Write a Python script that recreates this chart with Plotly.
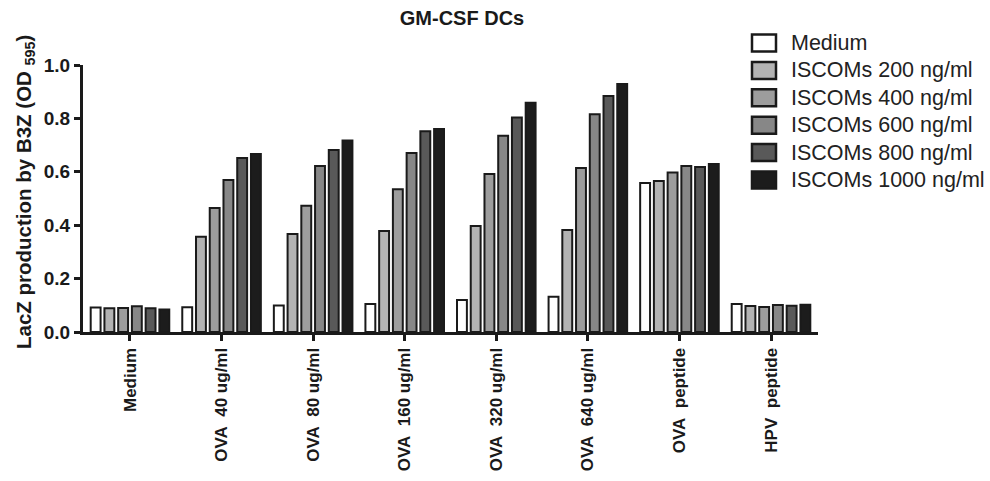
import plotly.graph_objects as go

categories = ["Medium", "OVA\u00a0 40 ug/ml", "OVA\u00a0 80 ug/ml", "OVA\u00a0 160 ug/ml",
              "OVA\u00a0 320 ug/ml", "OVA\u00a0 640 ug/ml", "OVA\u00a0 peptide", "HPV\u00a0 peptide"]

series_names = ["Medium", "ISCOMs 200 ng/ml", "ISCOMs 400 ng/ml",
                "ISCOMs 600 ng/ml", "ISCOMs 800 ng/ml", "ISCOMs 1000 ng/ml"]

medium_vals = [0.092, 0.093, 0.099, 0.105, 0.120, 0.132, 0.558, 0.105]
iscoms200 = [0.089, 0.357, 0.367, 0.378, 0.397, 0.382, 0.566, 0.097]
iscoms400 = [0.090, 0.464, 0.473, 0.535, 0.592, 0.614, 0.597, 0.094]
iscoms600 = [0.096, 0.569, 0.622, 0.670, 0.735, 0.816, 0.622, 0.101]
iscoms800 = [0.089, 0.652, 0.682, 0.752, 0.803, 0.884, 0.618, 0.098]
iscoms1000 = [0.084, 0.667, 0.717, 0.760, 0.859, 0.929, 0.629, 0.102]

series_values = [medium_vals, iscoms200, iscoms400, iscoms600, iscoms800, iscoms1000]
fill_colors = ["#ffffff", "#b3b3b3", "#9d9d9d", "#878787", "#595959", "#1c1c1c"]
edge = "#1a1a1a"

y_ticks = [0.0, 0.2, 0.4, 0.6, 0.8, 1.0]

W, H = 990, 481
L, R, T, B = 83, 172, 65, 149
pw, ph = W - L - R, H - T - B

def px2x(px):
    return (px - L) / pw

def py2y(py):
    return (H - B - py) / ph

fig = go.Figure()
xs = list(range(len(categories)))
for name, vals, col in zip(series_names, series_values, fill_colors):
    fig.add_trace(go.Bar(
        x=xs, y=vals, name=name,
        marker=dict(color=col, line=dict(color=edge, width=2)),
        showlegend=False,
    ))

FONT = "Liberation Sans, Arial, Helvetica, sans-serif"

fig.update_layout(
    width=W, height=H,
    margin=dict(l=L, r=R, t=T, b=B, pad=0, autoexpand=False),
    paper_bgcolor="white", plot_bgcolor="white",
    barmode="group", bargap=0.1, bargroupgap=0.28,
    font=dict(family=FONT, color="#1a1a1a"),
    title=dict(text="<b>GM-CSF DCs</b>", x=462 / W, xanchor="center",
               y=1 - 18 / H, yanchor="middle",
               font=dict(size=20, family=FONT, color="#1a1a1a")),
    xaxis=dict(
        tickmode="array", tickvals=xs,
        ticktext=["<b>%s</b>" % c for c in categories],
        tickangle=-90, range=[-0.513, len(categories) - 0.487],
        showline=True, linewidth=3, linecolor=edge,
        ticks="outside", ticklen=6, tickwidth=3, tickcolor=edge,
        tickfont=dict(size=17, family=FONT, color="#1a1a1a"),
        showgrid=False, zeroline=False, fixedrange=True, automargin=False,
    ),
    yaxis=dict(
        range=[0, 1.0], tickmode="array", tickvals=y_ticks,
        ticktext=["<b>%.1f</b>" % v for v in y_ticks],
        showline=True, linewidth=3, linecolor=edge,
        ticks="outside", ticklen=6, tickwidth=3, tickcolor=edge,
        tickfont=dict(size=19, family=FONT, color="#1a1a1a"),
        showgrid=False, zeroline=False, fixedrange=True, automargin=False,
    ),
)

# y-axis title
fig.add_annotation(
    text="<b>LacZ production by B3Z (OD <sub>595</sub>)</b>",
    xref="paper", yref="paper", x=px2x(25), y=py2y(192),
    xanchor="center", yanchor="middle", textangle=-90, showarrow=False,
    font=dict(size=20.5, family=FONT, color="#1a1a1a"),
)

# manual legend
row0, step = 43, 27.4
for i, (name, col) in enumerate(zip(series_names, fill_colors)):
    cy = row0 + i * step
    fig.add_shape(type="rect", xref="paper", yref="paper",
                  x0=px2x(752), x1=px2x(776), y0=py2y(cy - 8.5), y1=py2y(cy + 8.5),
                  fillcolor=col, line=dict(color=edge, width=2.5))
    fig.add_annotation(text=name, xref="paper", yref="paper",
                       x=px2x(789), y=py2y(cy), xanchor="left", yanchor="middle",
                       showarrow=False,
                       font=dict(size=21.5, family=FONT, color="#222222"))

fig.write_html("out.html")
